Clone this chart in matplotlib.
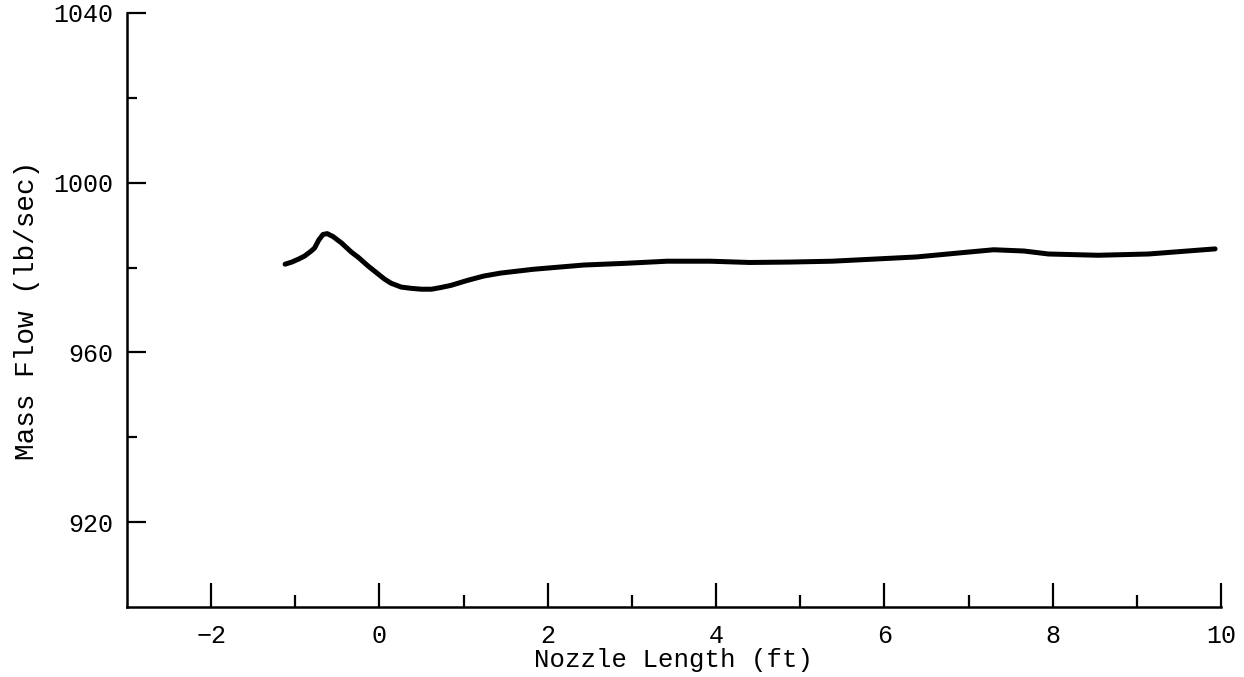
import matplotlib
matplotlib.use('Agg')
import matplotlib.pyplot as plt
from matplotlib.ticker import FixedLocator

# values
nozzle_length = [-1.12, -1.04, -0.96, -0.89, -0.81, -0.77, -0.72, -0.67, -0.62, -0.55,
                 -0.45, -0.33, -0.25, -0.13, 0.06, 0.14, 0.26, 0.38, 0.50, 0.62,
                 0.73, 0.85, 1.05, 1.24, 1.44, 1.83, 2.43, 2.92, 3.42, 3.93,
                 4.40, 4.88, 5.38, 5.88, 6.38, 6.97, 7.30, 7.66, 7.95, 8.54,
                 9.14, 9.73, 9.93]
mass_flow = [980.8, 981.3, 982.0, 982.7, 983.9, 984.6, 986.5, 987.8, 988.0, 987.3,
             985.8, 983.6, 982.4, 980.3, 977.3, 976.3, 975.4, 975.1, 974.9, 974.9,
             975.3, 975.8, 977.0, 978.0, 978.7, 979.6, 980.6, 981.0, 981.5, 981.5,
             981.2, 981.3, 981.5, 982.0, 982.5, 983.6, 984.2, 983.9, 983.2, 982.9,
             983.2, 984.1, 984.4]

x_major = [-2, 0, 2, 4, 6, 8, 10]
x_minor = [-1, 1, 3, 5, 7, 9]
y_major = [920, 960, 1000, 1040]
y_minor = [940, 980, 1020]

plt.rcParams['font.family'] = ['Liberation Mono', 'DejaVu Sans Mono']

fig = plt.figure(figsize=(12.44, 6.77), dpi=100)
ax = fig.add_axes([0.102, 0.1034, 0.8795, 0.8774])

ax.plot(nozzle_length, mass_flow, color='black', lw=3.6,
        solid_capstyle='round', solid_joinstyle='round')

ax.set_xlim(-3, 10)
ax.set_ylim(900, 1040)
ax.spines['top'].set_visible(False)
ax.spines['right'].set_visible(False)
for s in ('left', 'bottom'):
    ax.spines[s].set_linewidth(1.8)

ax.xaxis.set_major_locator(FixedLocator(x_major))
ax.xaxis.set_minor_locator(FixedLocator(x_minor))
ax.yaxis.set_major_locator(FixedLocator(y_major))
ax.yaxis.set_minor_locator(FixedLocator(y_minor))
ax.tick_params(which='major', direction='in', width=1.6, length=17, labelsize=18)
ax.tick_params(axis='x', which='major', pad=12)
ax.tick_params(axis='y', which='major', length=14, pad=10)
ax.tick_params(which='minor', direction='in', width=1.6, length=9)
ax.tick_params(axis='y', which='minor', length=7)

ax.set_xlabel('Nozzle Length (ft)', fontsize=18.5, labelpad=0)
ax.set_ylabel('Mass Flow (lb/sec)', fontsize=20, labelpad=9)

fig.savefig('out.png', dpi=100)
